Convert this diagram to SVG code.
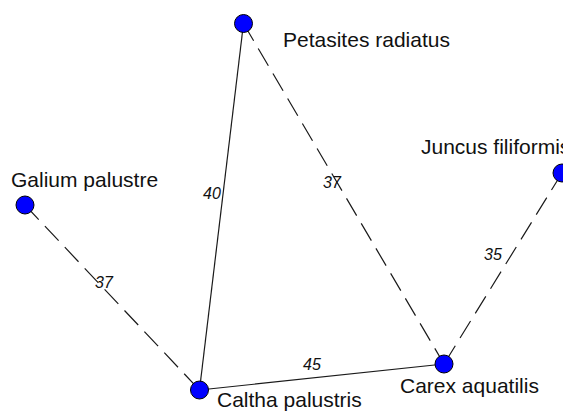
<svg xmlns="http://www.w3.org/2000/svg" width="563" height="412" viewBox="0 0 563 412">
<style>
.edge{stroke:#1a1a1a;stroke-width:1.2;fill:none}
.dash{stroke-dasharray:20 9}
.node{fill:#0000ff;stroke:#000;stroke-width:1}
.lbl{font-family:"Liberation Sans",Arial,sans-serif;font-size:21px;fill:#111}
.w{font-family:"Liberation Sans",Arial,sans-serif;font-size:16px;font-style:italic;fill:#111}
</style>
<rect width="563" height="412" fill="#fff"/>
<g id="connectors">
<line class="edge" x1="243.5" y1="23.5" x2="199.5" y2="390"/>
<line class="edge" x1="199.5" y1="390" x2="444" y2="364"/>
<line class="edge dash" x1="243.5" y1="23.5" x2="444" y2="364"/>
<line class="edge dash" x1="25" y1="205" x2="199.5" y2="390"/>
<line class="edge dash" x1="562" y1="173" x2="444" y2="364"/>
<text class="w" x="203" y="199">40</text>
<text class="w" x="323" y="188">37</text>
<text class="w" x="95" y="288">37</text>
<text class="w" x="484" y="260">35</text>
<text class="w" x="303" y="370">45</text>
</g>
<g id="petasites"><circle class="node" cx="243.5" cy="23.5" r="9"/><text class="lbl" x="283" y="47">Petasites radiatus</text></g>
<g id="galium"><circle class="node" cx="25" cy="205" r="9"/><text class="lbl" x="11" y="187">Galium palustre</text></g>
<g id="caltha"><circle class="node" cx="199.5" cy="390" r="9"/><text class="lbl" x="217" y="407">Caltha palustris</text></g>
<g id="carex"><circle class="node" cx="444" cy="364" r="9"/><text class="lbl" x="400" y="393">Carex aquatilis</text></g>
<g id="juncus"><circle class="node" cx="562" cy="173" r="9"/><text class="lbl" x="421" y="154">Juncus filiformis</text></g>
</svg>
